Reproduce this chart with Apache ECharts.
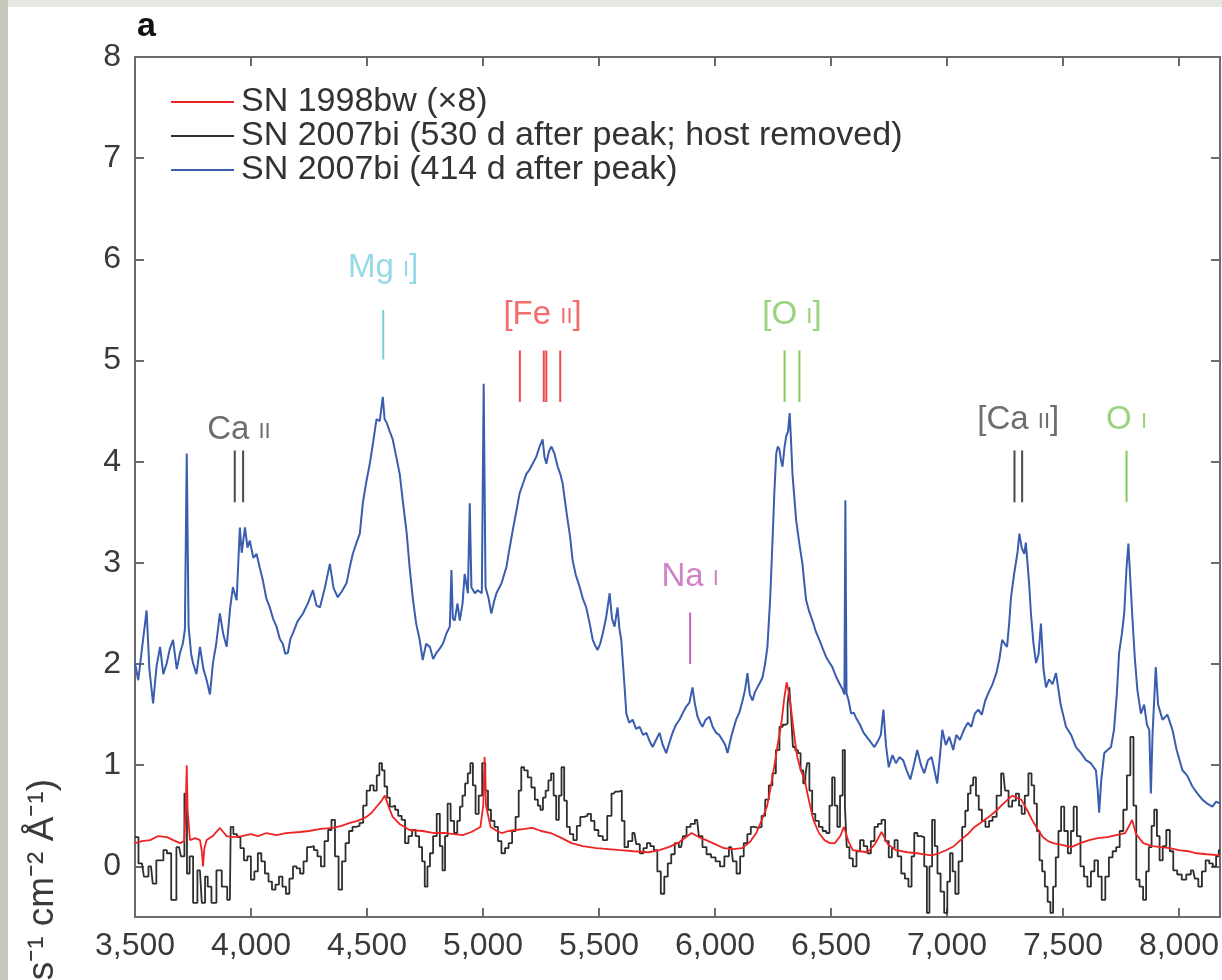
<!DOCTYPE html>
<html>
<head>
<meta charset="utf-8">
<script src="https://cdn.jsdelivr.net/npm/echarts@6/dist/echarts.min.js"></script>
<style>
  html, body { margin: 0; padding: 0; background: #fff; }
  #chart { width: 1222px; height: 980px; }
</style>
</head>
<body>
<div id="chart"></div>
<script>
// wavelength ticks (Angstrom) and flux ticks
const waveTicks = [3500, 4000, 4500, 5000, 5500, 6000, 6500, 7000, 7500, 8000];
const fluxTicks = [0, 1, 2, 3, 4, 5, 6, 7, 8];

const legendNames = [
    'SN 1998bw (\u00d78)',
    'SN 2007bi (530 d after peak; host removed)',
    'SN 2007bi (414 d after peak)'
];

// SN 2007bi, 414 d after peak [wavelength, flux]
const spec414 = [
    [3500, 2.01], [3514, 1.84], [3530, 2.15], [3550, 2.53], [3562, 1.95], [3578, 1.61], [3593, 1.98], [3608, 2.17],
    [3622, 1.9], [3637, 2.01], [3650, 2.15], [3664, 2.24], [3680, 1.95], [3694, 2.11], [3706, 2.2], [3715, 2.34],
    [3723, 4.08], [3731, 2.37], [3742, 2.1], [3750, 2.01], [3765, 1.9], [3780, 2.17], [3795, 1.95], [3809, 1.84],
    [3823, 1.7], [3836, 2.01], [3850, 2.2], [3866, 2.5], [3880, 2.3], [3895, 2.17], [3910, 2.55], [3922, 2.76],
    [3938, 2.63], [3952, 3.35], [3960, 3.1], [3974, 3.35], [3985, 3.15], [3995, 3.22], [4010, 3.05], [4024, 3.09],
    [4038, 2.95], [4051, 2.83], [4066, 2.65], [4081, 2.56], [4095, 2.45], [4110, 2.37], [4124, 2.25], [4137, 2.2],
    [4148, 2.1], [4159, 2.11], [4170, 2.25], [4180, 2.3], [4200, 2.42], [4224, 2.5], [4245, 2.6], [4267, 2.73],
    [4282, 2.58], [4297, 2.56], [4318, 2.75], [4340, 2.99], [4356, 2.75], [4374, 2.66], [4392, 2.72], [4412, 2.8],
    [4425, 2.95], [4439, 3.09], [4455, 3.2], [4469, 3.29], [4482, 3.59], [4497, 3.8], [4512, 3.98], [4527, 4.2],
    [4541, 4.42], [4555, 4.4], [4568, 4.64], [4576, 4.42], [4584, 4.39], [4598, 4.3], [4611, 4.22], [4626, 4.05],
    [4641, 3.88], [4655, 3.6], [4670, 3.32], [4684, 2.95], [4697, 2.66], [4712, 2.4], [4727, 2.24], [4740, 2.04],
    [4755, 2.2], [4771, 2.17], [4785, 2.05], [4799, 2.11], [4813, 2.15], [4827, 2.2], [4842, 2.3], [4857, 2.37],
    [4864, 2.93], [4870, 2.45], [4878, 2.43], [4890, 2.6], [4900, 2.43], [4912, 2.6], [4921, 2.89], [4935, 2.7],
    [4943, 3.59], [4950, 2.76], [4965, 2.7], [4977, 2.73], [4995, 2.7], [5003, 4.77], [5011, 2.76], [5024, 2.65],
    [5036, 2.5], [5048, 2.62], [5058, 2.7], [5080, 2.8], [5101, 2.96], [5115, 3.15], [5128, 3.32], [5143, 3.5],
    [5158, 3.69], [5172, 3.78], [5187, 3.88], [5200, 3.92], [5214, 3.98], [5230, 4.05], [5244, 4.15], [5257, 4.22],
    [5265, 4.05], [5273, 3.98], [5284, 4.1], [5295, 4.15], [5308, 4.08], [5322, 3.95], [5333, 3.88], [5343, 3.79],
    [5354, 3.6], [5365, 3.42], [5376, 3.25], [5386, 3.03], [5400, 2.88], [5417, 2.76], [5430, 2.65], [5445, 2.56],
    [5460, 2.4], [5473, 2.24], [5484, 2.18], [5494, 2.14], [5505, 2.2], [5516, 2.3], [5530, 2.45], [5546, 2.7],
    [5556, 2.45], [5567, 2.37], [5580, 2.56], [5588, 2.35], [5596, 2.24], [5608, 1.85], [5618, 1.51], [5630, 1.42],
    [5645, 1.45], [5660, 1.36], [5675, 1.38], [5690, 1.3], [5704, 1.32], [5718, 1.24], [5731, 1.18], [5746, 1.25],
    [5761, 1.32], [5775, 1.2], [5790, 1.12], [5803, 1.22], [5817, 1.32], [5832, 1.4], [5847, 1.45], [5862, 1.52],
    [5876, 1.58], [5890, 1.62], [5903, 1.77], [5914, 1.6], [5925, 1.48], [5936, 1.42], [5946, 1.38], [5960, 1.45],
    [5976, 1.48], [5990, 1.38], [6005, 1.32], [6018, 1.3], [6032, 1.25], [6044, 1.2], [6054, 1.12], [6072, 1.3],
    [6091, 1.45], [6105, 1.52], [6119, 1.64], [6130, 1.75], [6140, 1.91], [6150, 1.7], [6162, 1.64], [6172, 1.72],
    [6183, 1.77], [6195, 1.82], [6205, 1.87], [6216, 2.0], [6226, 2.17], [6238, 2.65], [6248, 3.22], [6256, 3.7],
    [6264, 4.08], [6271, 4.15], [6278, 4.12], [6284, 4.02], [6291, 3.95], [6300, 4.15], [6307, 4.25], [6315, 4.3],
    [6322, 4.48], [6328, 4.2], [6334, 3.88], [6342, 3.65], [6350, 3.42], [6363, 3.2], [6377, 2.99], [6385, 2.8],
    [6393, 2.63], [6406, 2.52], [6420, 2.43], [6435, 2.32], [6450, 2.24], [6465, 2.15], [6479, 2.07], [6492, 2.02],
    [6506, 1.97], [6521, 1.88], [6536, 1.81], [6550, 1.75], [6558, 1.7], [6562, 3.62], [6567, 1.71], [6575, 1.65],
    [6587, 1.51], [6598, 1.52], [6608, 1.47], [6625, 1.4], [6641, 1.32], [6664, 1.25], [6687, 1.18], [6705, 1.25],
    [6715, 1.3], [6726, 1.55], [6737, 1.2], [6749, 0.98], [6765, 1.1], [6780, 1.02], [6795, 1.08], [6811, 1.05],
    [6826, 0.95], [6842, 0.86], [6857, 1.0], [6872, 1.15], [6888, 1.0], [6902, 0.92], [6918, 1.05], [6934, 1.08],
    [6946, 0.95], [6958, 0.82], [6970, 1.1], [6980, 1.35], [6995, 1.2], [7010, 1.28], [7027, 1.15], [7040, 1.3],
    [7056, 1.25], [7073, 1.35], [7090, 1.42], [7105, 1.38], [7120, 1.51], [7135, 1.55], [7150, 1.5], [7165, 1.64],
    [7180, 1.72], [7196, 1.8], [7213, 1.91], [7226, 2.05], [7238, 2.24], [7249, 2.2], [7259, 2.17], [7268, 2.4],
    [7276, 2.66], [7290, 2.9], [7304, 3.1], [7312, 3.29], [7322, 3.15], [7333, 3.09], [7340, 3.2], [7346, 3.19],
    [7354, 2.8], [7362, 2.5], [7373, 2.2], [7384, 2.01], [7395, 2.1], [7405, 2.4], [7416, 1.95], [7427, 1.77],
    [7440, 1.85], [7455, 1.8], [7470, 1.91], [7490, 1.6], [7513, 1.38], [7535, 1.3], [7556, 1.18], [7578, 1.12],
    [7599, 1.05], [7620, 1.02], [7642, 0.95], [7650, 0.75], [7656, 0.53], [7665, 0.85], [7678, 1.12], [7692, 1.15],
    [7707, 1.18], [7720, 1.35], [7732, 1.7], [7742, 2.11], [7754, 2.3], [7764, 2.5], [7774, 2.95], [7782, 3.19],
    [7790, 2.85], [7800, 2.43], [7810, 2.05], [7821, 1.74], [7836, 1.51], [7850, 1.6], [7862, 1.4], [7872, 1.35],
    [7879, 0.72], [7886, 1.3], [7900, 1.97], [7910, 1.6], [7929, 1.45], [7950, 1.5], [7972, 1.35], [7990, 1.15],
    [8015, 0.95], [8035, 0.9], [8058, 0.79], [8080, 0.72], [8101, 0.66], [8122, 0.62], [8144, 0.59], [8160, 0.64],
    [8177, 0.62]
];

// SN 1998bw scaled by 8 [wavelength, flux]
const spec98bw = [
    [3500, 0.23], [3530, 0.25], [3565, 0.26], [3600, 0.3], [3638, 0.29], [3665, 0.26], [3694, 0.23], [3712, 0.25],
    [3719, 0.6], [3723, 1.0], [3727, 0.55], [3737, 0.26], [3760, 0.28], [3780, 0.26], [3788, 0.15], [3793, 0.0],
    [3799, 0.18], [3809, 0.26], [3835, 0.3], [3866, 0.38], [3895, 0.3], [3922, 0.29], [3960, 0.3], [4000, 0.32],
    [4030, 0.3], [4067, 0.33], [4110, 0.31], [4150, 0.33], [4211, 0.34], [4250, 0.35], [4300, 0.37], [4353, 0.38],
    [4390, 0.4], [4426, 0.43], [4460, 0.45], [4498, 0.49], [4520, 0.53], [4541, 0.59], [4560, 0.64], [4577, 0.7],
    [4595, 0.58], [4611, 0.49], [4640, 0.42], [4684, 0.36], [4740, 0.35], [4790, 0.33], [4838, 0.33], [4875, 0.32],
    [4913, 0.31], [4950, 0.34], [4989, 0.39], [5001, 0.6], [5007, 1.08], [5013, 0.6], [5033, 0.39], [5060, 0.35],
    [5081, 0.33], [5110, 0.35], [5140, 0.36], [5180, 0.37], [5214, 0.38], [5250, 0.35], [5292, 0.33], [5340, 0.28],
    [5382, 0.23], [5430, 0.2], [5488, 0.18], [5540, 0.17], [5593, 0.16], [5650, 0.15], [5714, 0.14], [5761, 0.16],
    [5800, 0.19], [5839, 0.23], [5870, 0.28], [5899, 0.33], [5930, 0.29], [5962, 0.26], [6000, 0.22], [6039, 0.18],
    [6080, 0.17], [6116, 0.18], [6150, 0.24], [6178, 0.33], [6200, 0.45], [6224, 0.59], [6240, 0.78], [6255, 0.98],
    [6270, 1.2], [6286, 1.41], [6298, 1.65], [6309, 1.82], [6320, 1.7], [6332, 1.48], [6344, 1.25], [6355, 1.08],
    [6370, 0.95], [6386, 0.86], [6405, 0.65], [6424, 0.46], [6448, 0.33], [6472, 0.26], [6495, 0.23], [6517, 0.23],
    [6540, 0.3], [6556, 0.39], [6575, 0.25], [6594, 0.16], [6625, 0.15], [6657, 0.14], [6690, 0.22], [6718, 0.34],
    [6745, 0.22], [6780, 0.16], [6830, 0.14], [6872, 0.13], [6900, 0.12], [6934, 0.11], [6965, 0.13], [6996, 0.16],
    [7030, 0.2], [7058, 0.26], [7090, 0.32], [7119, 0.39], [7150, 0.44], [7181, 0.49], [7212, 0.55], [7243, 0.62],
    [7262, 0.66], [7281, 0.7], [7300, 0.68], [7320, 0.66], [7345, 0.56], [7367, 0.46], [7390, 0.37], [7413, 0.29],
    [7436, 0.25], [7458, 0.23], [7500, 0.21], [7536, 0.19], [7575, 0.23], [7613, 0.26], [7650, 0.28], [7691, 0.29],
    [7730, 0.31], [7768, 0.33], [7785, 0.4], [7798, 0.46], [7815, 0.32], [7846, 0.23], [7885, 0.2], [7923, 0.19],
    [7960, 0.18], [7999, 0.16], [8040, 0.15], [8076, 0.13], [8120, 0.12], [8177, 0.11]
];

// SN 2007bi, 530 d after peak, host removed (binned) [wavelength, flux]
const spec530 = [
    [3500, 0.29], [3530, 0.03], [3547, -0.1], [3569, 0.0], [3584, -0.17], [3600, 0.06], [3615, 0.06], [3630, 0.16],
    [3645, 0.13], [3667, -0.33], [3690, 0.19], [3706, 0.1], [3720, 0.72], [3728, -0.07], [3743, 0.1], [3758, -0.36],
    [3780, -0.04], [3796, -0.36], [3808, -0.1], [3819, -0.2], [3840, -0.36], [3862, -0.04], [3886, -0.2], [3909, -0.33],
    [3916, 0.39], [3932, 0.32], [3947, 0.29], [3962, 0.18], [3977, 0.06], [3992, 0.1], [4007, -0.13], [4022, -0.05],
    [4037, 0.13], [4052, 0.05], [4068, -0.07], [4083, -0.15], [4098, -0.23], [4113, -0.18], [4128, -0.1], [4143, -0.2],
    [4158, -0.27], [4173, -0.12], [4189, 0.0], [4204, -0.02], [4219, -0.07], [4234, 0.05], [4249, 0.19], [4264, 0.2],
    [4279, 0.16], [4294, 0.1], [4309, 0.0], [4325, 0.25], [4340, 0.36], [4354, 0.46], [4370, 0.1], [4385, -0.23],
    [4400, 0.05], [4415, 0.23], [4430, 0.35], [4445, 0.39], [4460, 0.4], [4476, 0.43], [4491, 0.6], [4506, 0.75],
    [4521, 0.8], [4536, 0.75], [4548, 0.9], [4559, 1.02], [4570, 0.95], [4581, 0.79], [4593, 0.68], [4604, 0.59],
    [4616, 0.6], [4627, 0.56], [4642, 0.5], [4657, 0.46], [4671, 0.23], [4687, 0.3], [4702, 0.36], [4717, 0.3],
    [4732, 0.19], [4743, 0.05], [4755, -0.2], [4766, 0.0], [4777, 0.13], [4793, 0.3], [4808, 0.52], [4820, 0.2],
    [4831, -0.04], [4842, 0.3], [4853, 0.62], [4868, 0.45], [4883, 0.33], [4895, 0.45], [4906, 0.59], [4917, 0.7],
    [4929, 0.82], [4940, 0.92], [4951, 1.02], [4962, 0.8], [4974, 0.52], [4989, 0.7], [5004, 1.02], [5016, 0.75],
    [5027, 0.56], [5042, 0.45], [5057, 0.39], [5072, 0.25], [5087, 0.13], [5103, 0.18], [5118, 0.23], [5133, 0.35],
    [5148, 0.49], [5160, 0.75], [5170, 0.98], [5185, 0.95], [5201, 0.88], [5216, 0.78], [5231, 0.66], [5242, 0.6],
    [5253, 0.56], [5264, 0.68], [5276, 0.75], [5288, 0.85], [5299, 0.92], [5310, 0.7], [5321, 0.46], [5333, 0.7],
    [5344, 0.98], [5356, 0.65], [5367, 0.39], [5382, 0.32], [5397, 0.26], [5412, 0.4], [5427, 0.49], [5443, 0.5],
    [5458, 0.52], [5473, 0.45], [5488, 0.36], [5507, 0.3], [5526, 0.26], [5545, 0.5], [5563, 0.72], [5578, 0.74],
    [5593, 0.75], [5604, 0.45], [5616, 0.19], [5635, 0.25], [5653, 0.33], [5668, 0.22], [5684, 0.13], [5699, 0.18],
    [5714, 0.23], [5729, 0.2], [5744, 0.16], [5759, -0.05], [5774, -0.27], [5789, -0.1], [5804, 0.03], [5819, 0.12],
    [5834, 0.23], [5854, 0.19], [5870, 0.3], [5885, 0.39], [5904, 0.42], [5923, 0.46], [5938, 0.3], [5954, 0.19],
    [5973, 0.12], [5993, 0.09], [6012, 0.05], [6031, 0.0], [6050, 0.1], [6070, 0.19], [6085, 0.05], [6101, -0.07],
    [6116, 0.1], [6132, 0.23], [6147, 0.32], [6162, 0.39], [6178, 0.38], [6193, 0.39], [6209, 0.5], [6224, 0.66],
    [6240, 0.8], [6255, 0.92], [6270, 1.15], [6286, 1.38], [6298, 1.4], [6309, 1.41], [6317, 1.6], [6324, 1.77],
    [6332, 1.5], [6340, 1.18], [6352, 1.15], [6363, 1.12], [6375, 0.95], [6386, 0.82], [6393, 0.9], [6401, 1.02],
    [6413, 0.75], [6425, 0.52], [6440, 0.45], [6456, 0.39], [6472, 0.35], [6487, 0.33], [6500, 0.6], [6510, 0.88],
    [6522, 0.6], [6533, 0.39], [6545, 0.7], [6556, 1.15], [6564, 0.6], [6572, 0.19], [6587, 0.08], [6602, 0.0],
    [6618, 0.15], [6633, 0.26], [6649, 0.2], [6664, 0.13], [6680, 0.25], [6695, 0.39], [6710, 0.42], [6726, 0.46],
    [6741, 0.25], [6757, 0.09], [6768, 0.18], [6780, 0.26], [6795, 0.1], [6811, -0.07], [6826, -0.12], [6842, -0.2],
    [6853, 0.1], [6865, 0.33], [6880, 0.3], [6896, 0.29], [6908, 0.0], [6919, -0.46], [6930, 0.0], [6942, 0.46],
    [6953, 0.2], [6965, -0.07], [6980, -0.25], [6996, -0.46], [7007, -0.15], [7019, 0.13], [7030, -0.05], [7042, -0.27],
    [7058, 0.05], [7073, 0.39], [7085, 0.55], [7096, 0.72], [7107, 0.8], [7119, 0.88], [7131, 0.7], [7143, 0.56],
    [7158, 0.45], [7174, 0.39], [7189, 0.45], [7204, 0.49], [7224, 0.7], [7243, 0.92], [7258, 0.75], [7273, 0.59],
    [7289, 0.65], [7305, 0.72], [7316, 0.6], [7328, 0.52], [7343, 0.7], [7359, 0.92], [7370, 0.8], [7382, 0.62],
    [7393, 0.35], [7405, 0.06], [7416, -0.05], [7428, -0.2], [7440, -0.35], [7452, -0.46], [7463, -0.2], [7475, 0.09],
    [7486, 0.35], [7498, 0.59], [7513, 0.35], [7529, 0.13], [7540, 0.35], [7552, 0.59], [7568, 0.3], [7583, 0.0],
    [7598, -0.1], [7613, -0.2], [7628, -0.05], [7643, 0.06], [7659, -0.1], [7675, -0.33], [7690, -0.1], [7706, 0.09],
    [7722, 0.15], [7737, 0.19], [7752, 0.35], [7768, 0.56], [7783, 0.9], [7798, 1.28], [7810, 0.6], [7822, -0.13],
    [7838, -0.2], [7853, -0.33], [7864, -0.05], [7876, 0.19], [7888, 0.4], [7899, 0.56], [7911, 0.3], [7922, 0.06],
    [7938, 0.2], [7953, 0.36], [7968, 0.15], [7983, -0.04], [8002, -0.08], [8022, -0.13], [8041, -0.08], [8061, -0.04],
    [8076, -0.12], [8091, -0.2], [8107, -0.05], [8123, 0.06], [8138, 0.03], [8154, 0.0], [8166, 0.1], [8177, 0.16]
];

// line identifications: wavelengths of the marks, mark span and label height (flux units)
const lineIds = [
    { name: 'Ca', ion: 'II', open: '', close: '', waves: [3930, 3966], span: [3.6, 4.11], labelY: 4.33, color: '#4a4a4a' },
    { name: 'Mg', ion: 'I', open: '', close: ']', waves: [4570], span: [5.01, 5.5], labelY: 5.93, color: '#7ccfe0' },
    { name: 'Fe', ion: 'II', open: '[', close: ']', waves: [5159, 5262, 5273, 5333], span: [4.59, 5.1], labelY: 5.47, color: '#f04848' },
    { name: 'Na', ion: 'I', open: '', close: '', waves: [5893], span: [2.0, 2.51], labelY: 2.88, color: '#c663b6' },
    { name: 'O', ion: 'I', open: '[', close: ']', waves: [6300, 6364], span: [4.59, 5.1], labelY: 5.47, color: '#80c95c' },
    { name: 'Ca', ion: 'II', open: '[', close: ']', waves: [7291, 7324], span: [3.6, 4.11], labelY: 4.43, color: '#4a4a4a' },
    { name: 'O', ion: 'I', open: '', close: '', waves: [7774], span: [3.6, 4.11], labelY: 4.43, color: '#80c95c' }
];

const FONT = '"Liberation Sans", Arial, Helvetica, sans-serif';
const chart = echarts.init(document.getElementById('chart'));

// tick marks of each identification, broken between marks
const idSeries = lineIds.map(function (id) {
    const pts = [];
    id.waves.forEach(function (w) {
        pts.push([w, id.span[0]], [w, id.span[1]], [w, '-']);
    });
    return {
        type: 'line',
        data: pts,
        symbol: 'none',
        connectNulls: false,
        silent: true,
        lineStyle: { color: id.color, width: 2 },
        z: 5
    };
});

const idLabels = {
    type: 'scatter',
    symbolSize: 0,
    silent: true,
    z: 6,
    data: lineIds.map(function (id) {
        const mid = id.waves.reduce(function (a, b) { return a + b; }, 0) / id.waves.length;
        const txt = (id.open ? '{n|' + id.open + '}' : '') + '{n|' + id.name + ' }{s|' + id.ion + '}' +
            (id.close ? '{n|' + id.close + '}' : '');
        return {
            value: [mid, id.labelY],
            label: {
                show: true,
                position: 'inside',
                formatter: txt,
                rich: {
                    n: { color: id.color, fontSize: 33, fontFamily: FONT, lineHeight: 36, verticalAlign: 'bottom' },
                    s: { color: id.color, fontSize: 22, fontFamily: FONT, lineHeight: 36, verticalAlign: 'bottom', padding: [0, 0, 3, 0] }
                }
            }
        };
    })
};

const option = {
    backgroundColor: '#ffffff',
    animation: false,
    grid: { left: 135, right: 1, top: 57, bottom: 63, containLabel: false },
    legend: {
        data: legendNames,
        orient: 'vertical',
        left: 166,
        top: 80,
        icon: 'rect',
        itemWidth: 63,
        itemHeight: 2,
        itemGap: 0,
        textStyle: { fontSize: 34, fontFamily: FONT, color: '#333', lineHeight: 34, padding: [0, 0, 0, 2] }
    },
    xAxis: [
        {
            type: 'value', min: 3500, max: 8177, interval: 500, position: 'bottom',
            axisLine: { onZero: false, lineStyle: { color: '#6b6b6b', width: 2 } },
            axisTick: { inside: true, length: 9, customValues: waveTicks, lineStyle: { color: '#6b6b6b', width: 2 } },
            axisLabel: {
                customValues: waveTicks, margin: 13, fontSize: 32, fontFamily: FONT, color: '#3a3a3a',
                formatter: function (v) { return v.toLocaleString('en-US'); }
            },
            splitLine: { show: false }
        },
        {
            type: 'value', min: 3500, max: 8177, interval: 500, position: 'top',
            axisLine: { onZero: false, lineStyle: { color: '#6b6b6b', width: 2 } },
            axisTick: { inside: true, length: 9, customValues: waveTicks, lineStyle: { color: '#6b6b6b', width: 2 } },
            axisLabel: { show: false },
            splitLine: { show: false }
        }
    ],
    yAxis: [
        {
            type: 'value', min: -0.5, max: 8, position: 'left',
            axisLine: { show: true, onZero: false, lineStyle: { color: '#6b6b6b', width: 2 } },
            axisTick: { show: true, inside: true, length: 9, customValues: fluxTicks, lineStyle: { color: '#6b6b6b', width: 2 } },
            axisLabel: { customValues: fluxTicks, margin: 14, fontSize: 32, fontFamily: FONT, color: '#3a3a3a' },
            splitLine: { show: false }
        },
        {
            type: 'value', min: -0.5, max: 8, position: 'right',
            axisLine: { show: true, onZero: false, lineStyle: { color: '#6b6b6b', width: 2 } },
            axisTick: { show: true, inside: true, length: 9, customValues: fluxTicks, lineStyle: { color: '#6b6b6b', width: 2 } },
            axisLabel: { show: false },
            splitLine: { show: false }
        }
    ],
    graphic: [
        { type: 'rect', left: 0, top: 0, shape: { width: 1222, height: 7 }, style: { fill: '#e6e8e3' }, silent: true },
        { type: 'rect', left: 0, top: 0, shape: { width: 8, height: 980 }, style: { fill: '#c4c8bd' }, silent: true },
        {
            type: 'text', x: 137, y: 27, silent: true,
            style: { text: 'a', font: 'bold 34px ' + FONT, fill: '#111', verticalAlign: 'middle' }
        },
        {
            type: 'text', x: 43, y: 779, rotation: Math.PI / 2, silent: true,
            style: {
                text: 'Flux (10\u207b\u00b9\u2077 erg s\u207b\u00b9 cm\u207b\u00b2 \u00c5\u207b\u00b9)',
                font: '37px ' + FONT, fill: '#3a3a3a', align: 'right', verticalAlign: 'middle'
            }
        }
    ],
    series: [
        {
            name: legendNames[1], type: 'line', data: spec530, step: 'middle', symbol: 'none',
            lineStyle: { color: '#2e2e2e', width: 1.8 }, itemStyle: { color: '#2e2e2e' }, z: 2
        },
        {
            name: legendNames[0], type: 'line', data: spec98bw, symbol: 'none',
            lineStyle: { color: '#ee2424', width: 1.8 }, itemStyle: { color: '#ee2424' }, z: 3
        },
        {
            name: legendNames[2], type: 'line', data: spec414, symbol: 'none',
            lineStyle: { color: '#3a5db0', width: 2 }, itemStyle: { color: '#3a5db0' }, z: 4
        }
    ].concat(idSeries, [idLabels])
};

chart.setOption(option);
</script>
</body>
</html>
